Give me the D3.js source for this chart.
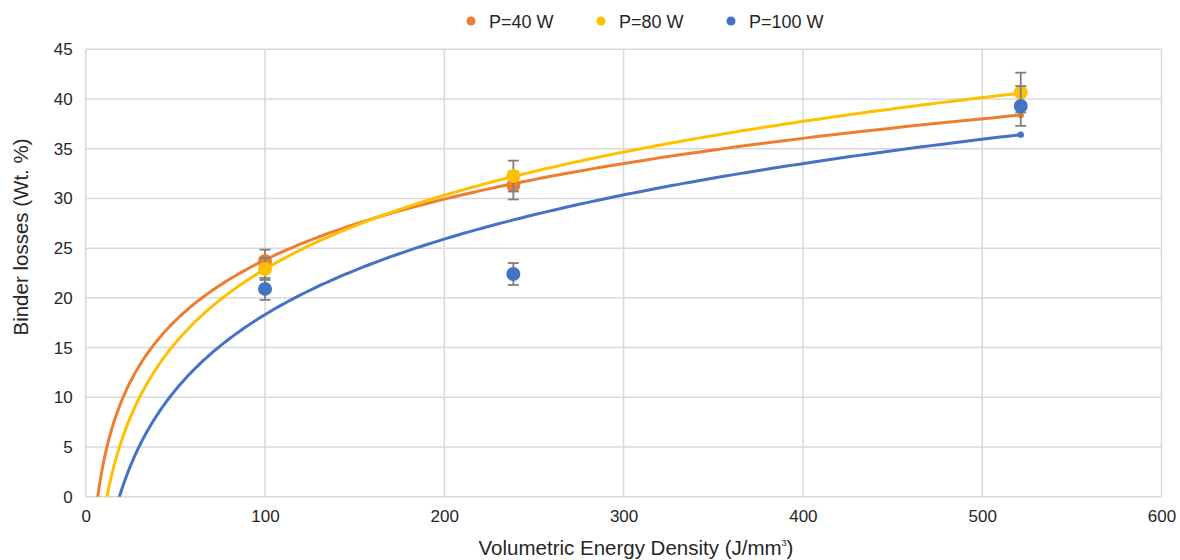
<!DOCTYPE html>
<html>
<head>
  <meta charset="utf-8">
  <title>Binder losses vs energy density</title>
  <script src="https://cdn.jsdelivr.net/npm/d3@7"></script>
  <style>
    body { margin: 0; background: #fff; }
    text { font-family: "Liberation Sans", Arial, sans-serif; fill: #262626; }
  </style>
</head>
<body>
  <script>
    // data
    const seriesNames = ['P=40 W', 'P=80 W', 'P=100 W'];
    const seriesColors = ['#ED7D31', '#FFC000', '#4472C4'];
    const energy = [100, 238.5, 521.5];
    const loss40 = [23.7, 31.3, null];
    const loss80 = [22.9, 32.25, 40.65];
    const loss100 = [20.9, 22.4, 39.3];
    const err40 = [1.15, 1.4, null];
    const err80 = [1.1, 1.55, 2.0];
    const err100 = [1.1, 1.1, 2.0];
    // logarithmic trend lines y = a*ln(x) + b
    const trendA = [8.82, 10.72, 10.96];
    const trendB = [-16.8, -26.48, -32.16];
    const xTicks = [0, 100, 200, 300, 400, 500, 600];
    const yTicks = [0, 5, 10, 15, 20, 25, 30, 35, 40, 45];

    const losses = [loss40, loss80, loss100];
    const errs = [err40, err80, err100];

    let width = 1180;
    let height = 560;
    let margin = {left: 85.7, right: 18.5, top: 49.3, bottom: 63.3};

    let svg = d3.select('body')
      .append('svg')
      .attr('width', width)
      .attr('height', height);

    let x = d3.scaleLinear().domain([0, 600]).range([margin.left, width - margin.right]);
    let y = d3.scaleLinear().domain([0, 45]).range([height - margin.bottom, margin.top]);

    // grid
    svg.append('g')
      .selectAll('line.v')
      .data(xTicks)
      .enter()
      .append('line')
      .attr('x1', d => x(d)).attr('x2', d => x(d))
      .attr('y1', y(45)).attr('y2', y(0))
      .attr('stroke', '#d9d9d9').attr('stroke-width', 1.5);
    svg.append('g')
      .selectAll('line.h')
      .data(yTicks)
      .enter()
      .append('line')
      .attr('x1', x(0)).attr('x2', x(600))
      .attr('y1', d => y(d)).attr('y2', d => y(d))
      .attr('stroke', '#d9d9d9').attr('stroke-width', 1.5);

    // axes (labels only)
    let xAxis = d3.axisBottom(x).tickValues(xTicks).tickSize(0).tickPadding(13);
    let yAxis = d3.axisLeft(y).tickValues(yTicks).tickSize(0).tickPadding(13);
    let gx = svg.append('g').attr('transform', `translate(0,${y(0)})`).call(xAxis);
    let gy = svg.append('g').attr('transform', `translate(${x(0)},0)`).call(yAxis);
    [gx, gy].forEach(g => {
      g.select('.domain').remove();
      g.selectAll('text').style('font-size', '17px').attr('fill', '#262626')
        .style('font-family', '"Liberation Sans", Arial, sans-serif');
    });

    // axis titles
    let xt = svg.append('text')
      .attr('x', 636).attr('y', 555)
      .attr('text-anchor', 'middle')
      .style('font-size', '20.5px');
    xt.append('tspan').text('Volumetric Energy Density (J/mm');
    xt.append('tspan').text('3').attr('dy', -9).style('font-size', '9px');
    xt.append('tspan').text(')').attr('dy', 9);

    svg.append('text')
      .attr('transform', `translate(28,237) rotate(-90)`)
      .attr('text-anchor', 'middle')
      .style('font-size', '20.5px')
      .text('Binder losses (Wt. %)');

    // trend lines
    svg.append('clipPath').attr('id', 'plot')
      .append('rect')
      .attr('x', x(0)).attr('y', y(45))
      .attr('width', x(600) - x(0)).attr('height', y(0) - y(45));

    let line = d3.line().x(d => x(d[0])).y(d => y(d[1]));
    seriesNames.forEach((name, i) => {
      let x0 = Math.exp(-trendB[i] / trendA[i]) * 0.97;
      let x1 = d3.max(energy);
      let pts = d3.range(0, 301).map(k => {
        let xv = x0 * Math.pow(x1 / x0, k / 300);
        return [xv, trendA[i] * Math.log(xv) + trendB[i]];
      });
      let g = svg.append('g').attr('clip-path', 'url(#plot)');
      g.append('path')
        .datum(pts)
        .attr('d', line)
        .attr('fill', 'none')
        .attr('stroke', seriesColors[i])
        .attr('stroke-width', 3)
        .attr('stroke-linecap', 'round');
      let end = pts[pts.length - 1];
      g.append('circle')
        .attr('cx', x(end[0])).attr('cy', y(end[1]))
        .attr('r', 3.2)
        .attr('fill', seriesColors[i]);
    });

    // error bars and markers
    seriesNames.forEach((name, i) => {
      let pts = energy.map((e, k) => ({x: e, y: losses[i][k], err: errs[i][k]}))
        .filter(d => d.y != null);
      let g = svg.append('g');
      let eb = g.selectAll('g.eb').data(pts).enter().append('g')
        .attr('stroke', '#7f7f7f').attr('stroke-width', 1.8);
      eb.append('line')
        .attr('x1', d => x(d.x)).attr('x2', d => x(d.x))
        .attr('y1', d => y(d.y - d.err)).attr('y2', d => y(d.y + d.err));
      eb.append('line')
        .attr('x1', d => x(d.x) - 5.5).attr('x2', d => x(d.x) + 5.5)
        .attr('y1', d => y(d.y + d.err)).attr('y2', d => y(d.y + d.err));
      eb.append('line')
        .attr('x1', d => x(d.x) - 5.5).attr('x2', d => x(d.x) + 5.5)
        .attr('y1', d => y(d.y - d.err)).attr('y2', d => y(d.y - d.err));
      g.selectAll('circle').data(pts).enter().append('circle')
        .attr('cx', d => x(d.x)).attr('cy', d => y(d.y))
        .attr('r', 7)
        .attr('fill', seriesColors[i]);
    });

    // legend
    let legendX = [471, 601, 731];
    let lg = svg.append('g').selectAll('g').data(seriesNames).enter().append('g')
      .attr('transform', (d, i) => `translate(${legendX[i]},21)`);
    lg.append('circle').attr('r', 4.5).attr('fill', (d, i) => seriesColors[i]);
    lg.append('text').attr('x', 18).attr('y', 6.5)
      .style('font-size', '18px')
      .text(d => d);
  </script>
</body>
</html>
